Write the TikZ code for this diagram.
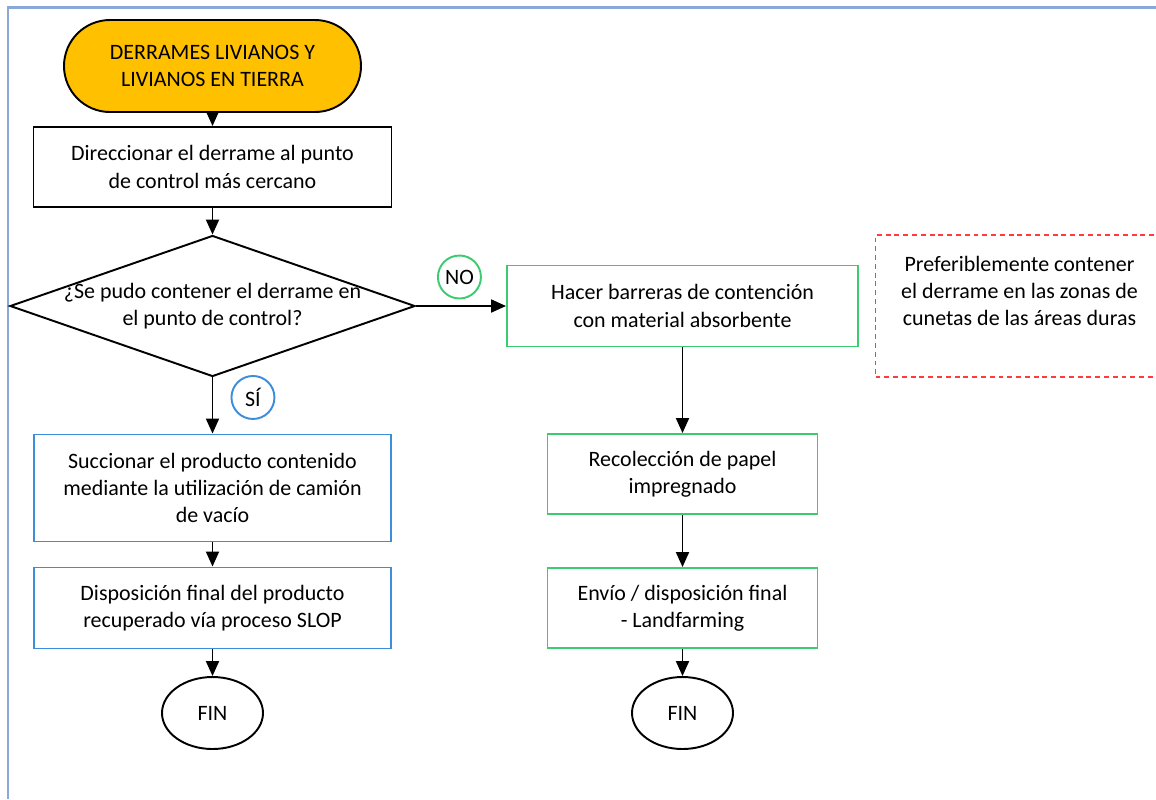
\documentclass[tikz,border=0pt]{standalone}
\usepackage{fontspec}
\setmainfont{Carlito}
\usetikzlibrary{arrows.meta,positioning,shapes.geometric}

\definecolor{startorange}{HTML}{FFC000}
\definecolor{boxblue}{HTML}{3C8DDB}
\definecolor{boxgreen}{HTML}{3DCB72}
\definecolor{notered}{HTML}{FF3B3B}
\definecolor{framegray}{HTML}{8AA8D8}

\begin{document}
\begin{tikzpicture}[-,>={Triangle[length=0.3cm,width=0.26cm]},node distance=2cm,
                    line width=1.1pt,
                    every node/.style={font=\fontsize{12.5}{15.5}\selectfont},
                    start node/.style={draw,fill=startorange,rounded corners=0.92cm,
                                       minimum width=5.94cm,minimum height=1.84cm,align=center},
                    black box/.style={draw,minimum width=7.16cm,minimum height=1.6cm,align=center},
                    blue box/.style={draw=boxblue,minimum width=7.14cm,align=center},
                    green box/.style={draw=boxgreen,minimum width=5.4cm,minimum height=1.6cm,align=center},
                    decision/.style={diamond,draw,minimum width=8.1cm,minimum height=2.82cm,inner sep=0pt},
                    end node/.style={ellipse,draw,minimum width=2.02cm,minimum height=1.44cm},
                    answer/.style={circle,draw,minimum size=0.86cm,inner sep=0pt},
                    note box/.style={draw=notered,dash pattern=on 2.8pt off 2.2pt,
                                     minimum width=5.76cm,minimum height=2.84cm}]

  \useasboundingbox (0,0) rectangle (23.12,-15.98);
  \draw[framegray,line width=1.6pt] (0.16,-15.98) -- (0.16,-0.15) -- (23.12,-0.15);

  \node[start node] (start) at (4.25,-1.32) {DERRAMES LIVIANOS Y\\LIVIANOS EN TIERRA};
  \node[black box] (direct) [below of=start, node distance=2.02cm] {Direccionar el derrame al punto\\de control más cercano};
  \node[decision] (ask) [below of=direct, node distance=2.78cm] {};
  \node[align=center] at (ask) {¿Se pudo contener el derrame en\\el punto de control?};
  \node[blue box, minimum height=2.14cm] (suck) [below of=ask, node distance=3.64cm] {Succionar el producto contenido\\mediante la utilización de camión\\de vacío};
  \node[blue box, minimum height=1.62cm] (slop) [below of=suck, node distance=2.4cm] {Disposición final del producto\\recuperado vía proceso SLOP};
  \node[end node] (fin1) [below of=slop, node distance=2.1cm] {FIN};

  \node[green box, minimum width=7.02cm, minimum height=1.62cm] (barrier) [right of=ask, node distance=9.4cm] {Hacer barreras de contención\\con material absorbente};
  \node[green box] (paper) [below of=barrier, node distance=3.36cm] {Recolección de papel\\impregnado};
  \node[green box] (send) [below of=paper, node distance=2.68cm] {Envío / disposición final\\- Landfarming};
  \node[end node] (fin2) [below of=send, node distance=2.1cm] {FIN};

  \node[note box] (tip) [right of=barrier, node distance=6.74cm] {};
  \node[align=center] at ([yshift=0.3cm]tip) {Preferiblemente contener\\el derrame en las zonas de\\cunetas de las áreas duras};

  \node[answer, draw=boxgreen] (no) [right=0.42cm of ask.east, yshift=0.58cm] {NO};
  \node[answer, draw=boxblue] (yes) [right=0.36cm of ask.south, yshift=-0.4cm] {SÍ};

  \path[->]
    (start) edge (direct)
    (direct) edge (ask)
    (ask) edge (suck)
          edge (barrier)
    (suck) edge (slop)
    (slop) edge (fin1)
    (barrier) edge (paper)
    (paper) edge (send)
    (send) edge (fin2);
\end{tikzpicture}
\end{document}
